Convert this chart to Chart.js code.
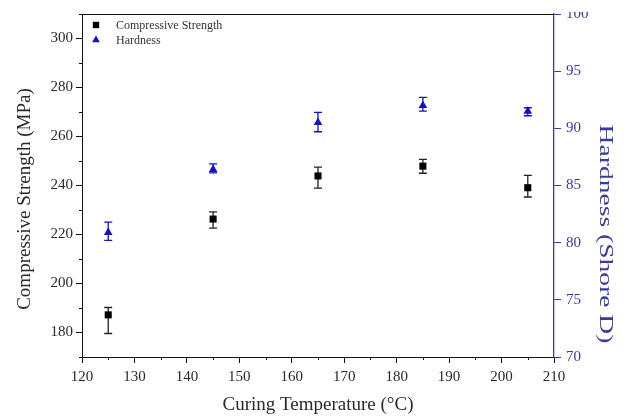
<!DOCTYPE html>
<html>
<head>
<meta charset="utf-8">
<script src="https://cdn.jsdelivr.net/npm/chart.js@4.4.1/dist/chart.umd.min.js"></script>
<style>
  html, body { margin: 0; padding: 0; background: #fff; }
  #clip { position: absolute; left: 0; top: 12px; width: 628px; height: 406px; overflow: hidden; }
  #holder { position: absolute; left: 0; top: -12px; width: 628px; height: 418px; }
</style>
</head>
<body>
<div id="clip"><div id="holder"><canvas id="chart" width="628" height="418"></canvas></div></div>
<script>
// Curing temperature (°C)
const temperatures = [125, 145, 165, 185, 205];

// Compressive strength (MPa) with upper / lower error
const strength = [187.2, 226.3, 243.9, 247.9, 239.1];
const strengthErrUp = [3.0, 2.9, 3.6, 2.8, 5.0];
const strengthErrDown = [7.6, 3.7, 5.0, 2.9, 3.8];

// Hardness (Shore D) with upper / lower error
const hardness = [80.9, 86.4, 90.5, 92.0, 91.5];
const hardnessErrUp = [0.9, 0.5, 0.9, 0.7, 0.3];
const hardnessErrDown = [0.7, 0.3, 0.8, 0.5, 0.4];

// Tick values
const xTicks = [120, 130, 140, 150, 160, 170, 180, 190, 200, 210];
const xMinorTicks = [125, 135, 145, 155, 165, 175, 185, 195, 205];
const strengthTicks = [180, 200, 220, 240, 260, 280, 300];
const strengthMinorTicks = [170, 190, 210, 230, 250, 270, 290, 310];
const hardnessTicks = [70, 75, 80, 85, 90, 95, 100];

// Axis titles and series names
const xTitle = 'Curing Temperature (°C)';
const strengthTitle = 'Compressive Strength (MPa)';
const hardnessTitle = 'Hardness (Shore D)';
const strengthName = 'Compressive Strength';
const hardnessName = 'Hardness';

const BLUE = '#1212c4';
const AXIS_BLUE = '#3a3aa0';
const TEXT = '#2a2a2a';
const SERIF = '"Liberation Serif", "Times New Roman", serif';

const toPoints = (xs, ys) => xs.map((x, i) => ({ x: x, y: ys[i] }));
const fixedTicks = values => scale => { scale.ticks = values.map(v => ({ value: v })); };

// Vertical error bars with caps, drawn beneath the markers
const errorBars = {
  id: 'errorBars',
  beforeDatasetsDraw(chart) {
    const ctx = chart.ctx;
    const xs = chart.scales.x;
    const sets = [
      { scale: chart.scales.y, vals: strength, up: strengthErrUp, down: strengthErrDown, color: '#222' },
      { scale: chart.scales.y1, vals: hardness, up: hardnessErrUp, down: hardnessErrDown, color: BLUE }
    ];
    ctx.save();
    ctx.lineWidth = 1.3;
    sets.forEach(s => {
      ctx.strokeStyle = s.color;
      s.vals.forEach((v, i) => {
        const px = xs.getPixelForValue(temperatures[i]);
        const top = s.scale.getPixelForValue(v + s.up[i]);
        const bot = s.scale.getPixelForValue(v - s.down[i]);
        ctx.beginPath();
        ctx.moveTo(px, top); ctx.lineTo(px, bot);
        ctx.moveTo(px - 4, top); ctx.lineTo(px + 4, top);
        ctx.moveTo(px - 4, bot); ctx.lineTo(px + 4, bot);
        ctx.stroke();
      });
    });
    ctx.restore();
  }
};

// Legend inside the plot, top-left corner
const insetLegend = {
  id: 'insetLegend',
  afterDraw(chart) {
    const ctx = chart.ctx;
    const a = chart.chartArea;
    ctx.save();
    ctx.font = '12px ' + SERIF;
    ctx.textBaseline = 'middle';
    ctx.textAlign = 'left';
    chart.data.datasets.forEach((ds, i) => {
      const cy = a.top + 11 + i * 15;
      const cx = a.left + 14;
      ctx.fillStyle = ds.backgroundColor;
      ctx.strokeStyle = ds.borderColor;
      Chart.helpers.drawPoint(ctx, { pointStyle: ds.pointStyle, radius: 4.5, borderWidth: 0 }, cx, cy);
      ctx.fillStyle = '#333';
      ctx.fillText(ds.label, a.left + 34, cy + 0.5);
    });
    ctx.restore();
  }
};

// Top frame line, minor ticks and axis titles
const frame = {
  id: 'frame',
  afterDraw(chart) {
    const ctx = chart.ctx;
    const a = chart.chartArea;
    const xs = chart.scales.x, ys = chart.scales.y;
    ctx.save();
    ctx.strokeStyle = '#111';
    ctx.lineWidth = 1;
    ctx.beginPath();
    ctx.moveTo(a.left, a.top + 0.5); ctx.lineTo(a.right, a.top + 0.5);
    xMinorTicks.forEach(v => {
      const p = Math.round(xs.getPixelForValue(v)) + 0.5;
      ctx.moveTo(p, a.bottom); ctx.lineTo(p, a.bottom + 3);
    });
    strengthMinorTicks.forEach(v => {
      const p = Math.round(ys.getPixelForValue(v)) + 0.5;
      ctx.moveTo(a.left, p); ctx.lineTo(a.left - 3, p);
    });
    ctx.stroke();

    ctx.fillStyle = TEXT;
    ctx.font = '19px ' + SERIF;
    ctx.textAlign = 'center';
    ctx.textBaseline = 'middle';
    ctx.fillText(xTitle, (a.left + a.right) / 2, a.bottom + 48);

    ctx.save();
    ctx.translate(a.left - 57, a.top + 185);
    ctx.rotate(-Math.PI / 2);
    ctx.fillText(strengthTitle, 0, 0);
    ctx.restore();

    ctx.save();
    ctx.fillStyle = AXIS_BLUE;
    ctx.translate(a.right + 51, a.top + 220);
    ctx.rotate(Math.PI / 2);
    ctx.scale(1.45, 1);
    ctx.fillText(hardnessTitle, 0, 0);
    ctx.restore();
    ctx.restore();
  }
};

new Chart(document.getElementById('chart'), {
  type: 'scatter',
  data: {
    datasets: [
      {
        label: strengthName,
        data: toPoints(temperatures, strength),
        yAxisID: 'y',
        pointStyle: 'rect',
        pointRadius: 5,
        pointHoverRadius: 5,
        backgroundColor: '#000',
        borderColor: '#000',
        borderWidth: 0
      },
      {
        label: hardnessName,
        data: toPoints(temperatures, hardness),
        yAxisID: 'y1',
        pointStyle: 'triangle',
        pointRadius: 5,
        pointHoverRadius: 5,
        backgroundColor: BLUE,
        borderColor: BLUE,
        borderWidth: 0
      }
    ]
  },
  options: {
    responsive: false,
    animation: false,
    layout: { padding: { top: 13, left: 0, right: 0, bottom: 0 } },
    plugins: {
      tooltip: { enabled: false },
      legend: { display: false }
    },
    scales: {
      x: {
        type: 'linear',
        position: 'bottom',
        min: 120,
        max: 210,
        afterBuildTicks: fixedTicks(xTicks),
        afterFit: s => { s.height = 61; },
        border: { color: '#111', width: 1 },
        grid: { drawOnChartArea: false, drawTicks: true, tickLength: 6, tickColor: '#111' },
        ticks: { color: TEXT, padding: 5, font: { family: SERIF, size: 15 } }
      },
      y: {
        type: 'linear',
        position: 'left',
        min: 170,
        max: 310,
        afterBuildTicks: fixedTicks(strengthTicks),
        afterFit: s => { s.width = 82; },
        border: { color: '#111', width: 1 },
        grid: { drawOnChartArea: false, drawTicks: true, tickLength: 6, tickColor: '#111' },
        ticks: { color: TEXT, padding: 3, font: { family: SERIF, size: 15 } }
      },
      y1: {
        type: 'linear',
        position: 'right',
        min: 70,
        max: 100,
        afterBuildTicks: fixedTicks(hardnessTicks),
        afterFit: s => { s.width = 74; },
        border: { color: AXIS_BLUE, width: 1.3 },
        grid: { drawOnChartArea: false, drawTicks: true, tickLength: 7, tickColor: AXIS_BLUE },
        ticks: { color: AXIS_BLUE, padding: 5, font: { family: SERIF, size: 15 } }
      }
    }
  },
  plugins: [errorBars, insetLegend, frame]
});
</script>
</body>
</html>
